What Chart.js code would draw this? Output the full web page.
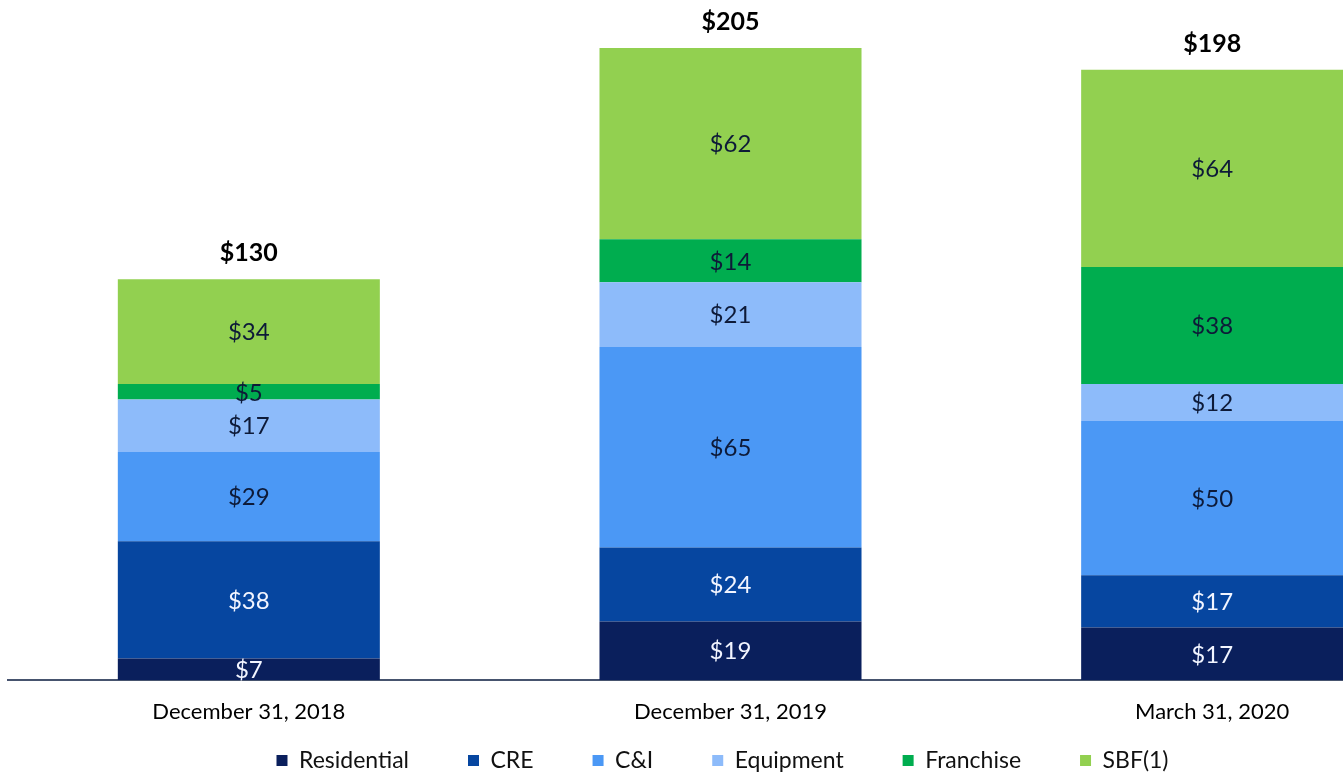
<!DOCTYPE html>
<html>
<head>
<meta charset="utf-8">
<script src="https://cdn.jsdelivr.net/npm/chart.js@4.4.1/dist/chart.umd.min.js"></script>
<style>
  html, body { margin: 0; padding: 0; background: #ffffff; overflow: hidden; }
  #wrap { width: 1461px; height: 776px; position: relative; }
</style>
</head>
<body>
<div id="wrap"><canvas id="c" width="1461" height="776"></canvas></div>
<script>
const categories = ['December 31, 2018', 'December 31, 2019', 'March 31, 2020'];
const seriesNames = ['Residential', 'CRE', 'C&I', 'Equipment', 'Franchise', 'SBF(1)'];
const residential = [7, 19, 17];
const cre = [38, 24, 17];
const cni = [29, 65, 50];
const equipment = [17, 21, 12];
const franchise = [5, 14, 38];
const sbf = [34, 62, 64];
const totals = [130, 205, 198];

const seriesValues = [residential, cre, cni, equipment, franchise, sbf];
const seriesColors = ['#0a1f5c', '#0646a0', '#4b98f5', '#8dbbfa', '#00ad4f', '#92d050'];
const labelColors = ['#f2f5ff', '#f2f5ff', '#0d1a38', '#0d1a38', '#0d1a38', '#0d1a38'];

const FONT = 'Lato, "Open Sans", sans-serif';

const valueLabelPlugin = {
  id: 'valueLabels',
  afterDatasetsDraw(chart) {
    const ctx = chart.ctx;
    ctx.save();
    ctx.textAlign = 'center';
    ctx.textBaseline = 'middle';
    chart.data.datasets.forEach((ds, di) => {
      const meta = chart.getDatasetMeta(di);
      meta.data.forEach((bar, i) => {
        const v = ds.data[i];
        const cy = (bar.y + bar.base) / 2;
        ctx.fillStyle = labelColors[di];
        ctx.font = '24px ' + FONT;
        ctx.fillText('$' + v, bar.x, cy + 1);
      });
    });
    const last = chart.getDatasetMeta(chart.data.datasets.length - 1);
    last.data.forEach((bar, i) => {
      ctx.fillStyle = '#000000';
      ctx.font = 'bold 25px ' + FONT;
      ctx.fillText('$' + totals[i], bar.x, bar.y - 26);
    });
    ctx.restore();
  }
};

// widen the x-axis label area after layout so the tick labels can sit
// in the empty band above the legend items
const layoutTweak = {
  id: 'layoutTweak',
  afterLayout(chart) {
    const x = chart.scales.x;
    x.bottom = x.top + 60;
    x.height = 60;
    const lg = chart.legend;
    lg.left -= 8;
    lg.right -= 8;
  }
};

new Chart(document.getElementById('c'), {
  type: 'bar',
  data: {
    labels: categories,
    datasets: seriesNames.map((name, k) => ({
      label: name,
      data: seriesValues[k],
      backgroundColor: seriesColors[k],
      borderWidth: 0,
      categoryPercentage: 1,
      barPercentage: 0.544
    }))
  },
  options: {
    responsive: false,
    animation: false,
    layout: { padding: { left: 8, right: 8, top: 0, bottom: -6 } },
    plugins: {
      tooltip: { enabled: false },
      legend: {
        position: 'bottom',
        labels: {
          boxWidth: 11,
          boxHeight: 11,
          padding: 59,
          color: '#111111',
          font: { family: FONT, size: 23 }
        }
      }
    },
    scales: {
      x: {
        stacked: true,
        grid: { display: false, drawTicks: false },
        border: { display: true, color: '#46536e', width: 2 },
        ticks: {
          color: '#000000',
          padding: 19,
          maxRotation: 0,
          autoSkip: false,
          font: { family: FONT, size: 22 }
        },
        afterFit(scale) { scale.height = 10; }
      },
      y: {
        stacked: true,
        display: false,
        min: 0,
        max: 220.6
      }
    }
  },
  plugins: [valueLabelPlugin, layoutTweak]
});
</script>
</body>
</html>
